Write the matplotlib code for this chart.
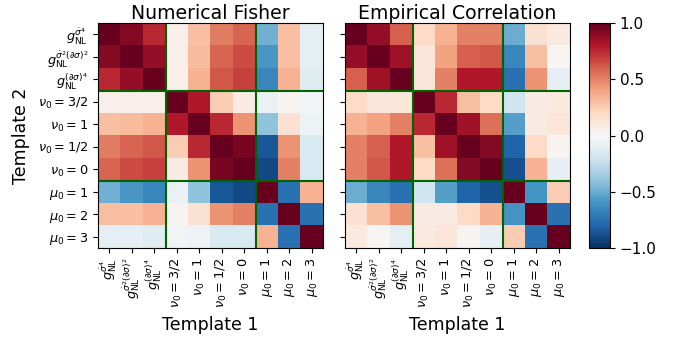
import numpy as np
import matplotlib
matplotlib.use("Agg")
import matplotlib.pyplot as plt

labels = [
    r"$g_{\rm NL}^{\dot\sigma^4}$",
    r"$g_{\rm NL}^{\dot\sigma^2(\partial\sigma)^2}$",
    r"$g_{\rm NL}^{(\partial\sigma)^4}$",
    r"$\nu_0=3/2$",
    r"$\nu_0=1$",
    r"$\nu_0=1/2$",
    r"$\nu_0=0$",
    r"$\mu_0=1$",
    r"$\mu_0=2$",
    r"$\mu_0=3$",
]

fisher = [
    [1.00, 0.92, 0.75, 0.05, 0.30, 0.52, 0.58, -0.48, 0.30, -0.10],
    [0.92, 1.00, 0.88, 0.05, 0.32, 0.58, 0.65, -0.58, 0.30, -0.10],
    [0.75, 0.88, 1.00, 0.05, 0.35, 0.62, 0.68, -0.65, 0.35, -0.12],
    [0.05, 0.05, 0.05, 1.00, 0.80, 0.25, 0.08, -0.07, 0.03, -0.03],
    [0.30, 0.32, 0.35, 0.80, 1.00, 0.75, 0.45, -0.40, 0.15, -0.05],
    [0.52, 0.58, 0.62, 0.25, 0.75, 1.00, 0.95, -0.85, 0.45, -0.15],
    [0.58, 0.65, 0.68, 0.08, 0.45, 0.95, 1.00, -0.90, 0.50, -0.15],
    [-0.48, -0.58, -0.65, -0.07, -0.40, -0.85, -0.90, 1.00, -0.75, 0.35],
    [0.30, 0.30, 0.35, 0.03, 0.15, 0.45, 0.50, -0.75, 1.00, -0.75],
    [-0.10, -0.10, -0.12, -0.03, -0.05, -0.15, -0.15, 0.35, -0.75, 1.00],
]

empirical = [
    [1.00, 0.88, 0.60, 0.20, 0.35, 0.50, 0.50, -0.50, 0.15, 0.10],
    [0.88, 1.00, 0.85, 0.12, 0.40, 0.60, 0.62, -0.65, 0.30, 0.02],
    [0.60, 0.85, 1.00, 0.12, 0.50, 0.80, 0.80, -0.75, 0.45, -0.10],
    [0.20, 0.12, 0.12, 1.00, 0.75, 0.30, 0.20, -0.20, 0.08, 0.10],
    [0.35, 0.40, 0.50, 0.75, 1.00, 0.85, 0.55, -0.55, 0.08, 0.12],
    [0.50, 0.60, 0.80, 0.30, 0.85, 1.00, 0.92, -0.80, 0.20, 0.03],
    [0.50, 0.62, 0.80, 0.20, 0.55, 0.92, 1.00, -0.88, 0.35, -0.08],
    [-0.50, -0.65, -0.75, -0.20, -0.55, -0.80, -0.88, 1.00, -0.60, 0.25],
    [0.15, 0.30, 0.45, 0.08, 0.08, 0.20, 0.35, -0.60, 1.00, -0.75],
    [0.10, 0.02, -0.10, 0.10, 0.12, 0.03, -0.08, 0.25, -0.75, 1.00],
]

block_edges = [2.5, 6.5]

fig = plt.figure(figsize=(6.89, 3.41), dpi=100)
W, H = 689, 341

def px_axes(x0, y0, x1, y1):
    return fig.add_axes([x0 / W, 1 - y1 / H, (x1 - x0) / W, (y1 - y0) / H])

ax1 = px_axes(98, 23, 323, 248)
ax2 = px_axes(345, 23, 570, 248)
cax = px_axes(589, 23, 610, 248)

panels = [(ax1, fisher, "Numerical Fisher"), (ax2, empirical, "Empirical Correlation")]
n = len(labels)
for ax, mat, title in panels:
    im = ax.imshow(np.array(mat), cmap="RdBu_r", vmin=-1, vmax=1,
                   interpolation="nearest", aspect="auto")
    for e in block_edges:
        ax.axvline(e, color="darkgreen", lw=1.5)
        ax.axhline(e, color="darkgreen", lw=1.5)
    ax.set_xticks(range(n))
    ax.set_xticklabels(labels, rotation=90, fontsize=9.3)
    ax.set_yticks(range(n))
    ax.set_title(title, fontsize=13.6, pad=2)
    ax.set_xlabel("Template 1", fontsize=12.5, labelpad=6)

ax1.set_yticklabels(labels, fontsize=9.3)
ax1.set_ylabel("Template 2", fontsize=12.5, labelpad=6)
ax2.set_yticklabels([])

cb = fig.colorbar(im, cax=cax)
cb.set_ticks([-1.0, -0.5, 0.0, 0.5, 1.0])
cb.ax.tick_params(labelsize=11)

fig.savefig("out.png", dpi=100)
